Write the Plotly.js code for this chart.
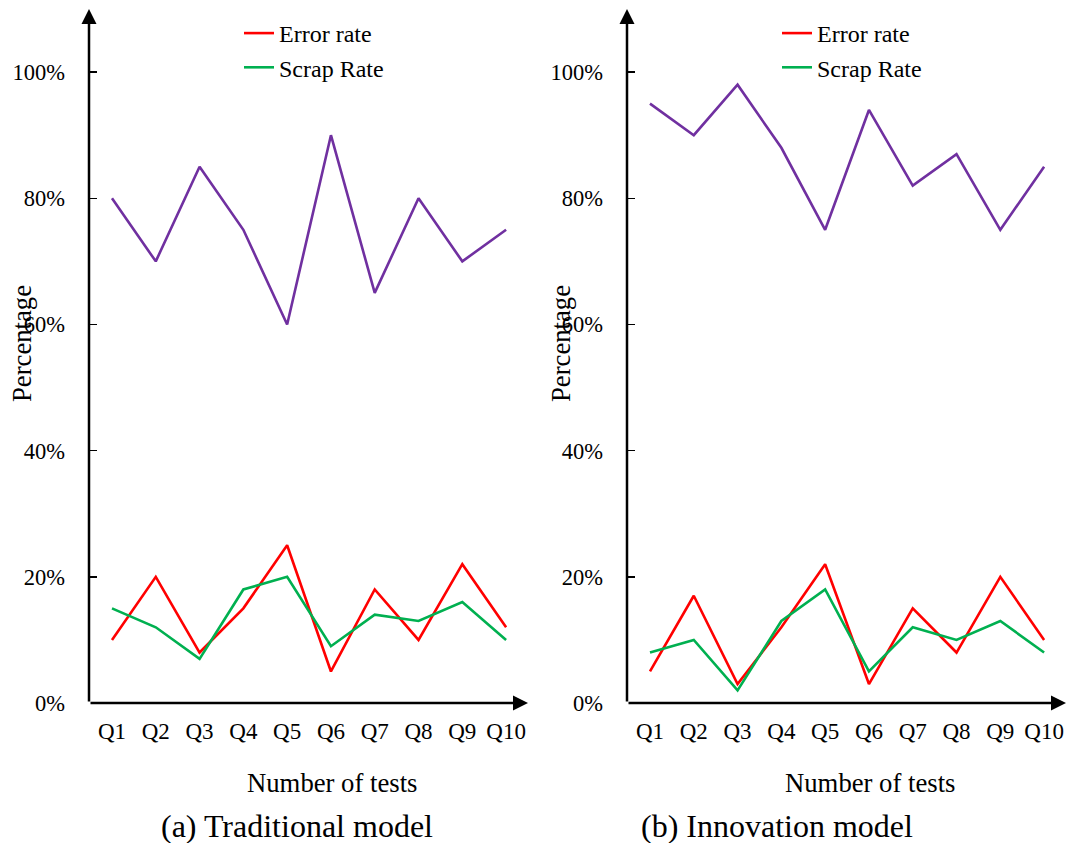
<!DOCTYPE html>
<html>
<head>
<meta charset="utf-8">
<script src="https://cdn.plot.ly/plotly-3.0.1.min.js"></script>
<style>html,body{margin:0;padding:0;background:#fff;}#chart{width:1067px;height:843px;}</style>
</head>
<body>
<div id="chart"></div>
<script>
const categories = ['Q1','Q2','Q3','Q4','Q5','Q6','Q7','Q8','Q9','Q10'];
const tradAccuracy = [80, 70, 85, 75, 60, 90, 65, 80, 70, 75];
const tradError    = [10, 20, 8, 15, 25, 5, 18, 10, 22, 12];
const tradScrap    = [15, 12, 7, 18, 20, 9, 14, 13, 16, 10];
const innoAccuracy = [95, 90, 98, 88, 75, 94, 82, 87, 75, 85];
const innoError    = [5, 17, 3, 12, 22, 3, 15, 8, 20, 10];
const innoScrap    = [8, 10, 2, 13, 18, 5, 12, 10, 13, 8];
const yTickVals = [0, 20, 40, 60, 80, 100];
const yTickText = ['0%', '20%', '40%', '60%', '80%', '100%'];

const FONT = 'Liberation Serif, Times New Roman, Times, serif';
const W = 1067, H = 843;
const RED = '#FF0000', GREEN = '#00B050', PURPLE = '#7030A0';
const LW = 2.6;

function mk(y, color, name, xa, ya, show, leg) {
  return {x: categories, y: y, type: 'scatter', mode: 'lines', name: name,
    line: {color: color, width: LW}, xaxis: xa, yaxis: ya, showlegend: show, legend: leg,
    hoverinfo: 'skip'};
}
const data = [
  mk(tradAccuracy, PURPLE, 'Accuracy', 'x', 'y', false, 'legend'),
  mk(tradError, RED, 'Error rate', 'x', 'y', true, 'legend'),
  mk(tradScrap, GREEN, 'Scrap Rate', 'x', 'y', true, 'legend'),
  mk(innoAccuracy, PURPLE, 'Accuracy', 'x2', 'y2', false, 'legend2'),
  mk(innoError, RED, 'Error rate', 'x2', 'y2', true, 'legend2'),
  mk(innoScrap, GREEN, 'Scrap Rate', 'x2', 'y2', true, 'legend2')
];

const XR = [-0.525, 9.5], YR = [0, 110];
const yDom = [1 - 703 / H, 1 - 9 / H];
function xaxis(l, r, anchor) {
  return {domain: [l / W, r / W], range: XR, type: 'category', anchor: anchor,
    showgrid: false, zeroline: false, showline: false, ticks: '',
    tickfont: {family: FONT, size: 23, color: '#000'}, ticklabelstandoff: 12,
    fixedrange: true};
}
function yaxis(anchor) {
  return {domain: yDom, range: YR, anchor: anchor, showgrid: false, zeroline: false,
    showline: false, ticks: 'inside', ticklen: 8, tickwidth: 1.5, tickcolor: '#000',
    tickvals: yTickVals, ticktext: yTickText,
    tickfont: {family: FONT, size: 22.5, color: '#000'}, ticklabelstandoff: 23,
    fixedrange: true};
}

function axisArrows(xr, yr) {
  const base = {text: '', showarrow: true, arrowhead: 2, arrowsize: 1.2, arrowwidth: 2.5,
    arrowcolor: '#000', standoff: 0, startstandoff: 0, xref: xr, yref: yr, axref: xr, ayref: yr};
  return [
    Object.assign({}, base, {x: XR[0], y: YR[1], ax: XR[0], ay: 0}),
    Object.assign({}, base, {x: XR[1], y: 0, ax: XR[0], ay: 0})
  ];
}
function txt(text, px, py, size, angle) {
  return {text: text, x: px / W, y: 1 - py / H, xref: 'paper', yref: 'paper',
    showarrow: false, xanchor: 'center', yanchor: 'middle', textangle: angle || 0,
    font: {family: FONT, size: size, color: '#000'}};
}

const annotations = [].concat(
  axisArrows('x', 'y'), axisArrows('x2', 'y2'),
  [txt('Percentage', 22, 344, 26.7, -90), txt('Number of tests', 332, 783, 26.7),
   txt('(a) Traditional model', 297, 826, 32),
   txt('Percentage', 561, 344, 26.7, -90), txt('Number of tests', 870, 783, 26.7),
   txt('(b) Innovation model', 777, 826, 32)]
);

function legendAt(px) {
  return {x: px / W, y: 1 - 11 / H, xanchor: 'left', yanchor: 'top', bgcolor: 'rgba(0,0,0,0)',
    borderwidth: 0, font: {family: FONT, size: 24, color: '#000'}, traceorder: 'normal'};
}

const layout = {
  width: W, height: H, margin: {l: 0, r: 0, t: 0, b: 0},
  paper_bgcolor: '#fff', plot_bgcolor: '#fff',
  xaxis: xaxis(89, 528, 'y'), yaxis: yaxis('x'),
  xaxis2: xaxis(627, 1066, 'y2'), yaxis2: yaxis('x2'),
  legend: legendAt(239), legend2: legendAt(777),
  annotations: annotations,
  font: {family: FONT}
};

Plotly.newPlot('chart', data, layout, {displayModeBar: false, staticPlot: true});
</script>
</body>
</html>
